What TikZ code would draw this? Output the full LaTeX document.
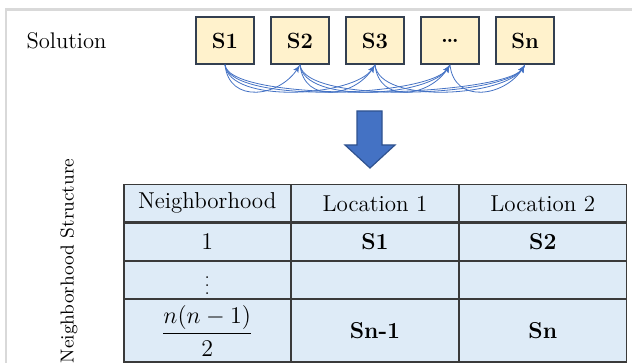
\documentclass[tikz,border=0pt]{standalone}
\usetikzlibrary{matrix,positioning,arrows}
\definecolor{boxfill}{HTML}{FFF2CC}
\definecolor{boxline}{HTML}{333F50}
\definecolor{tabfill}{HTML}{DEEBF7}
\definecolor{tabline}{HTML}{3A3A3A}
\definecolor{linkblue}{HTML}{4472C4}
\definecolor{arrowline}{HTML}{2F528F}
\definecolor{framegray}{HTML}{D9D9D9}

\begin{document}
\begin{tikzpicture}[x=0.5pt,y=-0.5pt,
  solbox/.style={draw=boxline, fill=boxfill, line width=0.7pt, minimum width=29pt, minimum height=23.5pt, inner sep=0pt, font=\fontsize{11}{13}\selectfont\bfseries},
  nbrlink/.style={draw=linkblue, line width=0.4pt, -latex'},
  bigarrow/.style={fill=linkblue, draw=arrowline, line width=0.6pt}]
  \useasboundingbox (0,0) rectangle (632,363);
  % screenshot frame
  \draw[framegray, line width=1.2pt] (6,363) -- (6,9.5) -- (632,9.5);

  \node[anchor=base, font=\fontsize{11.3}{13}\selectfont] (sol) at (66.5,49) {Solution};
  \foreach \i/\lab in {1/S1,2/S2,3/S3,4/\ldots,5/Sn}
    \node[solbox] (s\i) at ({225+75*(\i-1)},40.5) {\lab};
  % every pair of positions
  \foreach \i in {1,...,4}{
    \pgfmathtruncatemacro\k{\i+1}
    \foreach \j in {\k,...,5}
      \draw[nbrlink] (s\i.south) .. controls +(4,40) and +(-20,32) .. (s\j.south);
  }

  \draw[bigarrow] (357,111) -- (382,111) -- (382,145) -- (395,145) -- (370,168) -- (345,145) -- (357,145) -- cycle;

  \node[rotate=90, font=\fontsize{9.4}{11}\selectfont] (nbrlabel) at (69,261) {Neighborhood Structure};
  \matrix (T) [matrix of nodes, nodes in empty cells, column sep=-\pgflinewidth, row sep=-\pgflinewidth,
    nodes={draw=tabline, fill=tabfill, line width=0.8pt, minimum width=83.5pt, minimum height=18.75pt, anchor=center, inner sep=0pt, font=\fontsize{11.5}{13}\selectfont},
    row 4/.style={nodes={minimum height=31.25pt}}] at (375,273.25)
  {
    Neighborhood & Location 1 & Location 2 \\
    $1$ & \textbf{S1} & \textbf{S2} \\
    |[font=\fontsize{8}{9}\selectfont]| $\vdots$ & & \\
    $\displaystyle\frac{n(n-1)}{2}$ & \textbf{Sn-1} & \textbf{Sn} \\
  };
\end{tikzpicture}
\end{document}
